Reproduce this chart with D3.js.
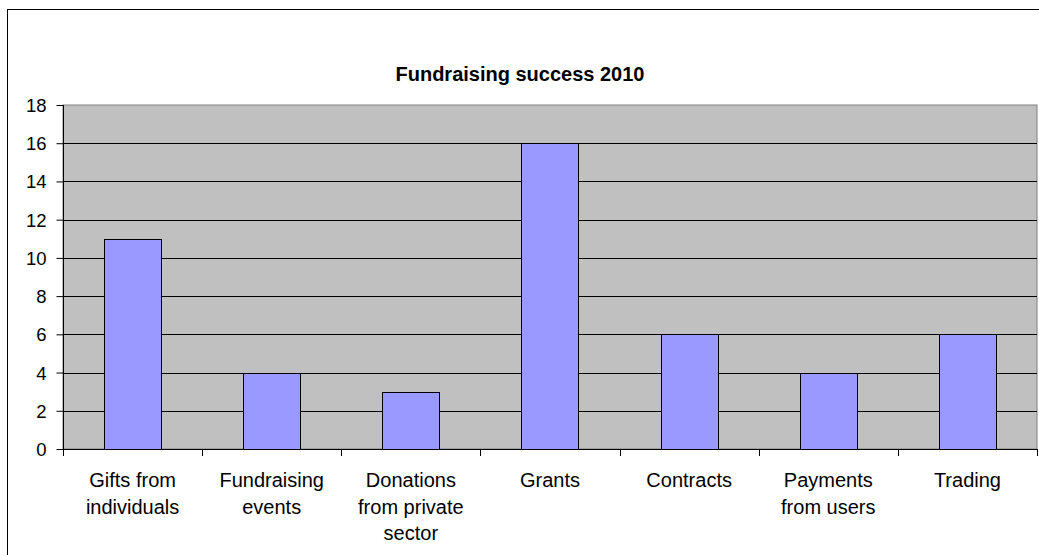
<!DOCTYPE html>
<html>
<head>
<meta charset="utf-8">
<script src="https://cdn.jsdelivr.net/npm/d3@7"></script>
<style>
  html, body { margin: 0; padding: 0; background: #fff; }
  svg { display: block; }
  text { font-family: "Liberation Sans", Arial, sans-serif; fill: #000; }
</style>
</head>
<body>
<script>
// Fundraising sources and counts
const categories = [
  ["Gifts from", "individuals"],
  ["Fundraising", "events"],
  ["Donations", "from private", "sector"],
  ["Grants"],
  ["Contracts"],
  ["Payments", "from users"],
  ["Trading"]
];
const values = [11, 4, 3, 16, 6, 4, 6];
const yTicks = [0, 2, 4, 6, 8, 10, 12, 14, 16, 18];
const title = "Fundraising success 2010";

const W = 1039, H = 555;
const plot = { left: 63, right: 1037, top: 105, bottom: 449 };

const svg = d3.select("body").append("svg")
  .attr("width", W).attr("height", H);

// chart frame (extends past the right and bottom edge)
svg.append("rect")
  .attr("x", 7.5).attr("y", 9.5)
  .attr("width", 1040).attr("height", 560)
  .attr("fill", "#fff").attr("stroke", "#000").attr("stroke-width", 1);

svg.append("text")
  .attr("x", 520).attr("y", 81)
  .attr("text-anchor", "middle")
  .style("font-size", "20px").style("font-weight", "bold")
  .text(title);

const keys = categories.map((d, i) => i);
const x = d3.scaleBand().domain(keys)
  .range([plot.left, plot.right]).paddingInner(0.59).paddingOuter(0.295);
const xOuter = d3.scaleBand().domain(keys).range([plot.left, plot.right]);
const y = d3.scaleLinear().domain([0, 18]).range([plot.bottom, plot.top]);

// plot area
svg.append("rect")
  .attr("x", plot.left).attr("y", plot.top)
  .attr("width", plot.right - plot.left).attr("height", plot.bottom - plot.top)
  .attr("fill", "#c0c0c0").attr("stroke", "#808080").attr("stroke-width", 1);

// gridlines
svg.append("g").selectAll("line")
  .data(yTicks.filter(t => t > 0 && t < 18))
  .join("line")
  .attr("x1", plot.left).attr("x2", plot.right)
  .attr("y1", d => Math.round(y(d)) + 0.5).attr("y2", d => Math.round(y(d)) + 0.5)
  .attr("stroke", "#000").attr("stroke-width", 1);

// bars
svg.append("g").selectAll("rect")
  .data(values)
  .join("rect")
  .attr("x", (d, i) => Math.round(x(i)) + 0.5)
  .attr("y", d => Math.round(y(d)) + 0.5)
  .attr("width", Math.round(x.bandwidth()))
  .attr("height", d => Math.round(y(0)) - Math.round(y(d)))
  .attr("fill", "#9999ff").attr("stroke", "#000").attr("stroke-width", 1);

// y axis
const yAxis = d3.axisLeft(y).tickValues(yTicks).tickSize(7).tickPadding(10)
  .tickFormat(d3.format("d"));
const gy = svg.append("g")
  .attr("transform", `translate(${plot.left + 0.5},0)`)
  .call(yAxis);
gy.attr("font-family", null).attr("font-size", null);
gy.select(".domain").attr("stroke", "#000").attr("d", `M0,${plot.top}V${plot.bottom}`);
gy.selectAll(".tick line").attr("stroke", "#000");
gy.selectAll(".tick text").style("font-size", "18.5px").attr("dy", "0.35em");

// x axis line and category separators
svg.append("line")
  .attr("x1", plot.left).attr("x2", plot.right)
  .attr("y1", plot.bottom + 0.5).attr("y2", plot.bottom + 0.5)
  .attr("stroke", "#000");
const bounds = keys.map(k => xOuter(k)).concat([plot.right]);
svg.append("g").selectAll("line")
  .data(bounds)
  .join("line")
  .attr("x1", d => Math.round(d) + 0.5).attr("x2", d => Math.round(d) + 0.5)
  .attr("y1", plot.bottom).attr("y2", plot.bottom + 7)
  .attr("stroke", "#000");

// category labels
const labels = svg.append("g").selectAll("text")
  .data(categories)
  .join("text")
  .attr("text-anchor", "middle")
  .style("font-size", "20px")
  .attr("transform", (d, i) => `translate(${x(i) + x.bandwidth() / 2},487)`);
labels.selectAll("tspan")
  .data(d => d)
  .join("tspan")
  .attr("x", 0)
  .attr("y", (d, j) => j * 26.5)
  .text(d => d);
</script>
</body>
</html>
